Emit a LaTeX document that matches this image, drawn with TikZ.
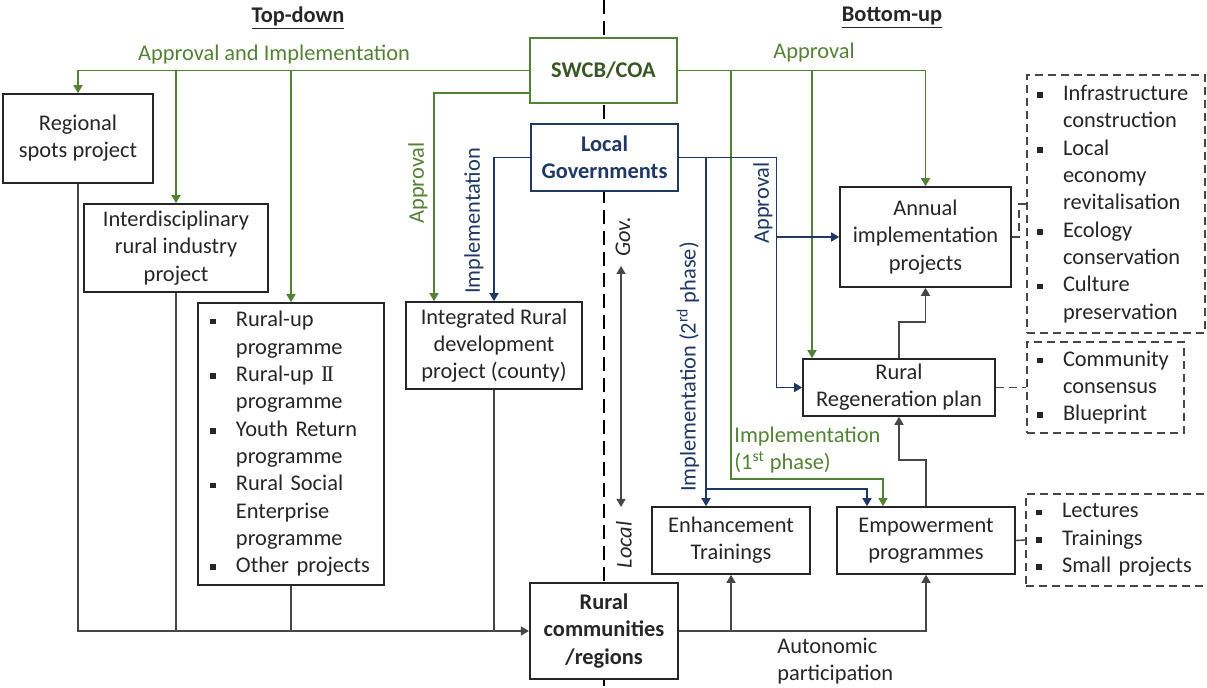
\documentclass[tikz,border=0pt]{standalone}
\usepackage{fontspec}
\setmainfont{Carlito}
\newfontfamily\romfont{Liberation Serif}
\usetikzlibrary{arrows.meta}
\definecolor{grn}{HTML}{548235}
\definecolor{dgrn}{HTML}{385723}
\definecolor{nvy}{HTML}{203864}
\definecolor{ink}{HTML}{262626}
\newcommand{\sq}{\makebox[13pt][l]{\rule[1.3pt]{2.8pt}{2.8pt}}}
\newcommand{\ind}{\hspace*{13pt}}
\newcommand{\romtwo}{{\romfont I\kern-0.9ptI}}
\begin{document}
\begin{tikzpicture}[x=0.5pt,y=0.5pt]
\tikzstyle{every node}+=[inner sep=0pt,text=ink,font=\fontsize{11.2}{13.65}\selectfont]
\tikzstyle{box}=[draw=ink,line width=0.8pt,fill=white,align=center]
\tikzstyle{lbox}=[box,align=left,inner xsep=6pt]
\tikzstyle{dbox}=[draw=ink!85,line width=0.8pt,dash pattern=on 4pt off 2.5pt,fill=white,align=left,inner xsep=5pt]
\tikzstyle{gline}=[grn,line width=0.7pt]
\tikzstyle{garr}=[gline,-{Triangle[width=4.5pt,length=4pt]}]
\tikzstyle{bline}=[nvy,line width=0.7pt]
\tikzstyle{barr}=[bline,-{Triangle[width=4.5pt,length=4pt]}]
\tikzstyle{kline}=[ink!85,line width=0.7pt]
\tikzstyle{karr}=[kline,-{Triangle[width=4.5pt,length=4pt]}]
\tikzstyle{dline}=[kline,dash pattern=on 4pt off 2.5pt]
\useasboundingbox (0,0) rectangle (1207,-688);
\clip (0,0) rectangle (1207,-688);
\draw[black,line width=1.4pt,dash pattern=on 7pt off 3.5pt] (604,0) -- (604,-688);
\node (topdown) at (298,-18) {\bfseries\underline{Top-down}};
\node (bottomup) at (892,-18) {\bfseries\underline{Bottom-up}};
\node[box,draw=grn,line width=1.1pt,minimum width=73.5pt,minimum height=32.5pt,text=dgrn,font=\fontsize{11.2}{13.65}\selectfont\bfseries] (swcb) at (603.5,-70.5) {SWCB/COA};
\node[box,draw=nvy,line width=1.1pt,minimum width=73.5pt,minimum height=33.5pt,text=nvy,font=\fontsize{11.2}{13.65}\selectfont\bfseries] (lg) at (604.5,-157.5) {Local\\Governments};
\node[box,minimum width=75pt,minimum height=44.5pt] (regional) at (78,-138.5) {Regional\\spots project};
\node[box,minimum width=92pt,minimum height=44pt] (interd) at (176,-248) {Interdisciplinary\\rural industry\\project};
\node[lbox,minimum width=93pt,minimum height=141pt,text width=81pt] (progs) at (291,-444) {\sq Rural-up\\\ind programme\\\sq Rural-up \romtwo\\\ind programme\\\sq Youth Return\\\ind programme\\\sq Rural Social\\\ind Enterprise\\\ind programme\\\sq Other projects};
\node[box,minimum width=88pt,minimum height=43.5pt] (irdp) at (494,-345.5) {Integrated Rural\\development\\project (county)};
\node[box,line width=1.1pt,minimum width=74pt,minimum height=48pt,font=\fontsize{11.2}{13.65}\selectfont\bfseries] (rural) at (604,-631) {Rural\\communities\\/regions};
\node[box,minimum width=79pt,minimum height=33.5pt] (enh) at (731,-540.5) {Enhancement\\Trainings};
\node[box,minimum width=89pt,minimum height=33.5pt] (emp) at (926,-540.5) {Empowerment\\programmes};
\node[box,minimum width=96pt,minimum height=28.5pt] (regen) at (899,-387.5) {Rural\\Regeneration plan};
\node[box,minimum width=85.5pt,minimum height=50pt] (annual) at (925.5,-237) {Annual\\implementation\\projects};
\node[dbox,minimum width=89pt,minimum height=129pt,text width=79pt] (aims) at (1116,-204) {\sq Infrastructure\\\ind construction\\\sq Local\\\ind economy\\\ind revitalisation\\\sq Ecology\\\ind conservation\\\sq Culture\\\ind preservation};
\node[dbox,minimum width=78.5pt,minimum height=45.5pt,text width=68.5pt] (plan) at (1105.5,-387.5) {\sq Community\\\ind consensus\\\sq Blueprint};
\node[dbox,minimum width=93pt,minimum height=46pt,text width=83pt] (acts) at (1119,-540) {\sq Lectures\\\sq Trainings\\\sq Small projects};
\draw[garr] (swcb.west) -| (regional.north);
\draw[garr] (interd.north |- swcb.west) -- (interd.north);
\draw[garr] (progs.north |- swcb.west) -- (progs.north);
\draw[garr] ([yshift=-11.25pt]swcb.west) -| ([xshift=-30pt]irdp.north);
\draw[barr] (lg.west) -| (irdp.north);
\draw[karr] (regional.south) |- (rural.west);
\draw[kline] (interd.south) -- (interd.south |- rural.west);
\draw[kline] (progs.south) -- (progs.south |- rural.west);
\draw[kline] (irdp.south) -- (irdp.south |- rural.west);
\draw[garr] (swcb.east) -| (annual.north);
\draw[garr] ([xshift=-43.5pt]regen.north |- swcb.east) -- ([xshift=-43.5pt]regen.north);
\draw[garr] (enh.north |- swcb.east) |- ([xshift=-21.5pt,yshift=13.5pt]emp.north) -- ([xshift=-21.5pt]emp.north);
\draw[barr] (lg.east) -| ([xshift=-13pt]regen.west) -- (regen.west);
\draw[barr] ([xshift=-31.5pt]annual.west) -- (annual.west);
\draw[barr] ([xshift=-12.5pt]enh.north |- lg.east) -- ([xshift=-12.5pt]enh.north);
\draw[barr] ([xshift=-12.5pt,yshift=8.5pt]enh.north) -| ([xshift=-29.5pt]emp.north);
\draw[karr] (rural.east) -| (emp.south);
\draw[karr] (enh.south |- rural.east) -- (enh.south);
\draw[karr] (emp.north) -- ([yshift=23pt]emp.north) -| (regen.south);
\draw[karr] (regen.north) -- ([yshift=18pt]regen.north) -| (annual.south);
\draw[dline] (annual.east) -- ++(3.5pt,0) |- (aims.west);
\draw[dline] (regen.east) -- (plan.west);
\draw[kline] (emp.east) -- (acts.west);
\coordinate (govtip) at (621,-266);
\coordinate (localtip) at (621,-507);
\draw[kline,{Triangle[width=4.5pt,length=4pt]}-{Triangle[width=4.5pt,length=4pt]}] (govtip) -- (localtip);
\node[rotate=90] (gov) at (623,-237) {\itshape Gov.};
\node[rotate=90] (local) at (624,-545) {\itshape Local};
\node[text=grn] (apim) at (274,-55) {Approval and Implementation};
\node[text=grn] (apr) at (814,-53) {Approval};
\node[text=grn,rotate=90] (aprl) at (418,-183) {Approval};
\node[text=nvy,rotate=90] (impl) at (474,-221) {Implementation};
\node[text=nvy,rotate=90] (aprr) at (763,-203) {Approval};
\node[text=nvy,rotate=90] (imp2) at (688,-367) {Implementation (2\textsuperscript{rd} phase)};
\node[text=grn,align=left,anchor=west] (imp1) at (734,-450) {Implementation\\(1\textsuperscript{st} phase)};
\node[align=left,anchor=west] (auto) at (777,-661) {Autonomic\\participation};
\end{tikzpicture}
\end{document}
